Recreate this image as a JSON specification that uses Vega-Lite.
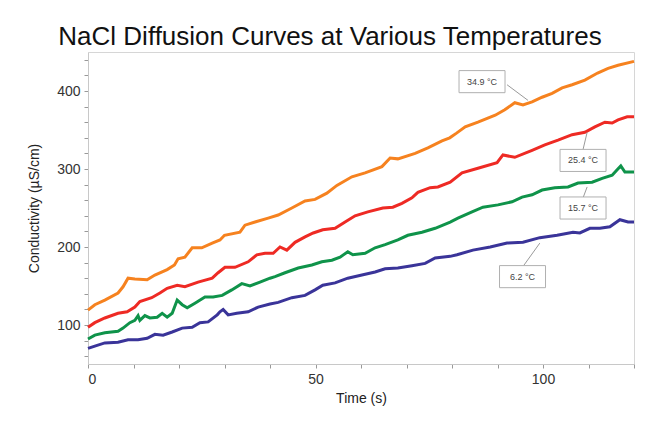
{
  "$schema": "https://vega.github.io/schema/vega-lite/v6.json",
  "width": 546,
  "height": 312,
  "autosize": {"type": "none"},
  "padding": {"left": 88, "top": 52, "right": 25, "bottom": 61},
  "background": "white",
  "title": {
    "text": "NaCl Diffusion Curves at Various Temperatures",
    "font": "Liberation Sans",
    "fontSize": 26,
    "fontWeight": "normal",
    "color": "#111111",
    "anchor": "middle",
    "dx": -31,
    "offset": 2
  },
  "config": {
    "view": {"stroke": "#d6d6d6", "strokeWidth": 1},
    "axis": {
      "grid": false,
      "domainColor": "#c8c8c8",
      "tickColor": "#999999",
      "tickSize": 4,
      "tickWidth": 1,
      "labelOverlap": false,
      "labelFont": "Liberation Sans",
      "labelFontSize": 14,
      "labelColor": "#333333",
      "titleFont": "Liberation Sans",
      "titleFontSize": 14,
      "titleFontWeight": "normal",
      "titleColor": "#222222"
    }
  },
  "datasets": {
    "curves": [
      {"series": "34.9 °C", "t": 0, "v": 119}, {"series": "34.9 °C", "t": 1.5, "v": 126}, {"series": "34.9 °C", "t": 3.7, "v": 132}, {"series": "34.9 °C", "t": 6.6, "v": 141}, {"series": "34.9 °C", "t": 7.7, "v": 149}, {"series": "34.9 °C", "t": 8.8, "v": 160}, {"series": "34.9 °C", "t": 10.3, "v": 159}, {"series": "34.9 °C", "t": 13, "v": 158}, {"series": "34.9 °C", "t": 14.7, "v": 164}, {"series": "34.9 °C", "t": 17.4, "v": 171}, {"series": "34.9 °C", "t": 19, "v": 177}, {"series": "34.9 °C", "t": 19.8, "v": 185}, {"series": "34.9 °C", "t": 21.3, "v": 187}, {"series": "34.9 °C", "t": 22.9, "v": 199}, {"series": "34.9 °C", "t": 25, "v": 199}, {"series": "34.9 °C", "t": 27.3, "v": 205}, {"series": "34.9 °C", "t": 29, "v": 209}, {"series": "34.9 °C", "t": 30, "v": 215}, {"series": "34.9 °C", "t": 33.4, "v": 219}, {"series": "34.9 °C", "t": 34.5, "v": 228}, {"series": "34.9 °C", "t": 36.7, "v": 232}, {"series": "34.9 °C", "t": 39.6, "v": 237}, {"series": "34.9 °C", "t": 41.8, "v": 241}, {"series": "34.9 °C", "t": 44.8, "v": 250}, {"series": "34.9 °C", "t": 47.7, "v": 259}, {"series": "34.9 °C", "t": 49.9, "v": 261}, {"series": "34.9 °C", "t": 52.5, "v": 269}, {"series": "34.9 °C", "t": 54.7, "v": 279}, {"series": "34.9 °C", "t": 58, "v": 290}, {"series": "34.9 °C", "t": 60.9, "v": 295}, {"series": "34.9 °C", "t": 64.6, "v": 303}, {"series": "34.9 °C", "t": 66.4, "v": 314}, {"series": "34.9 °C", "t": 68.1, "v": 313}, {"series": "34.9 °C", "t": 71.9, "v": 320}, {"series": "34.9 °C", "t": 74.7, "v": 327}, {"series": "34.9 °C", "t": 77.8, "v": 336}, {"series": "34.9 °C", "t": 79.5, "v": 340}, {"series": "34.9 °C", "t": 81, "v": 346}, {"series": "34.9 °C", "t": 82.9, "v": 354}, {"series": "34.9 °C", "t": 85.7, "v": 360}, {"series": "34.9 °C", "t": 89.5, "v": 369}, {"series": "34.9 °C", "t": 91.6, "v": 376}, {"series": "34.9 °C", "t": 93.8, "v": 385}, {"series": "34.9 °C", "t": 95.6, "v": 382}, {"series": "34.9 °C", "t": 97.6, "v": 386}, {"series": "34.9 °C", "t": 99.8, "v": 392}, {"series": "34.9 °C", "t": 102, "v": 397}, {"series": "34.9 °C", "t": 104.2, "v": 404}, {"series": "34.9 °C", "t": 106.4, "v": 408}, {"series": "34.9 °C", "t": 109.2, "v": 414}, {"series": "34.9 °C", "t": 112, "v": 423}, {"series": "34.9 °C", "t": 114.3, "v": 429}, {"series": "34.9 °C", "t": 116.5, "v": 433}, {"series": "34.9 °C", "t": 120, "v": 438},
      {"series": "25.4 °C", "t": 0, "v": 97}, {"series": "25.4 °C", "t": 1.5, "v": 103}, {"series": "25.4 °C", "t": 3.7, "v": 109}, {"series": "25.4 °C", "t": 6.6, "v": 115}, {"series": "25.4 °C", "t": 8.6, "v": 117}, {"series": "25.4 °C", "t": 10.3, "v": 123}, {"series": "25.4 °C", "t": 11.4, "v": 130}, {"series": "25.4 °C", "t": 14, "v": 135}, {"series": "25.4 °C", "t": 15.8, "v": 141}, {"series": "25.4 °C", "t": 17.4, "v": 147}, {"series": "25.4 °C", "t": 19.6, "v": 151}, {"series": "25.4 °C", "t": 21.3, "v": 149}, {"series": "25.4 °C", "t": 24.2, "v": 155}, {"series": "25.4 °C", "t": 27.3, "v": 160}, {"series": "25.4 °C", "t": 28.6, "v": 167}, {"series": "25.4 °C", "t": 30.1, "v": 174}, {"series": "25.4 °C", "t": 32.3, "v": 174}, {"series": "25.4 °C", "t": 35.2, "v": 181}, {"series": "25.4 °C", "t": 37.1, "v": 190}, {"series": "25.4 °C", "t": 38.9, "v": 192}, {"series": "25.4 °C", "t": 40.7, "v": 192}, {"series": "25.4 °C", "t": 42.2, "v": 200}, {"series": "25.4 °C", "t": 43.7, "v": 196}, {"series": "25.4 °C", "t": 45.5, "v": 206}, {"series": "25.4 °C", "t": 47.7, "v": 213}, {"series": "25.4 °C", "t": 49.5, "v": 218}, {"series": "25.4 °C", "t": 51.6, "v": 222}, {"series": "25.4 °C", "t": 54.3, "v": 224}, {"series": "25.4 °C", "t": 56.5, "v": 232}, {"series": "25.4 °C", "t": 58.7, "v": 240}, {"series": "25.4 °C", "t": 61.5, "v": 245}, {"series": "25.4 °C", "t": 64.8, "v": 250}, {"series": "25.4 °C", "t": 67, "v": 251}, {"series": "25.4 °C", "t": 69, "v": 256}, {"series": "25.4 °C", "t": 71.2, "v": 263}, {"series": "25.4 °C", "t": 72.5, "v": 270}, {"series": "25.4 °C", "t": 75.2, "v": 276}, {"series": "25.4 °C", "t": 76.9, "v": 277}, {"series": "25.4 °C", "t": 79.6, "v": 283}, {"series": "25.4 °C", "t": 82.2, "v": 295}, {"series": "25.4 °C", "t": 85.7, "v": 301}, {"series": "25.4 °C", "t": 89.9, "v": 308}, {"series": "25.4 °C", "t": 91.2, "v": 318}, {"series": "25.4 °C", "t": 93.8, "v": 315}, {"series": "25.4 °C", "t": 97.6, "v": 324}, {"series": "25.4 °C", "t": 100.4, "v": 331}, {"series": "25.4 °C", "t": 103.3, "v": 337}, {"series": "25.4 °C", "t": 106.4, "v": 344}, {"series": "25.4 °C", "t": 109.2, "v": 347}, {"series": "25.4 °C", "t": 111.4, "v": 354}, {"series": "25.4 °C", "t": 113.6, "v": 360}, {"series": "25.4 °C", "t": 115.2, "v": 359}, {"series": "25.4 °C", "t": 116.5, "v": 363}, {"series": "25.4 °C", "t": 118.5, "v": 367}, {"series": "25.4 °C", "t": 120, "v": 367},
      {"series": "15.7 °C", "t": 0, "v": 82}, {"series": "15.7 °C", "t": 1.5, "v": 87}, {"series": "15.7 °C", "t": 3.7, "v": 90}, {"series": "15.7 °C", "t": 6.6, "v": 92}, {"series": "15.7 °C", "t": 7.7, "v": 96}, {"series": "15.7 °C", "t": 9.2, "v": 103}, {"series": "15.7 °C", "t": 10.3, "v": 106}, {"series": "15.7 °C", "t": 11, "v": 112}, {"series": "15.7 °C", "t": 11.4, "v": 106}, {"series": "15.7 °C", "t": 12.5, "v": 112}, {"series": "15.7 °C", "t": 13.6, "v": 109}, {"series": "15.7 °C", "t": 15.2, "v": 110}, {"series": "15.7 °C", "t": 16.3, "v": 115}, {"series": "15.7 °C", "t": 17.4, "v": 110}, {"series": "15.7 °C", "t": 18.5, "v": 115}, {"series": "15.7 °C", "t": 19.6, "v": 132}, {"series": "15.7 °C", "t": 20.7, "v": 126}, {"series": "15.7 °C", "t": 21.8, "v": 122}, {"series": "15.7 °C", "t": 23.5, "v": 128}, {"series": "15.7 °C", "t": 25.7, "v": 136}, {"series": "15.7 °C", "t": 27.5, "v": 136}, {"series": "15.7 °C", "t": 29.5, "v": 138}, {"series": "15.7 °C", "t": 31.6, "v": 145}, {"series": "15.7 °C", "t": 33.8, "v": 153}, {"series": "15.7 °C", "t": 35.6, "v": 150}, {"series": "15.7 °C", "t": 37.8, "v": 155}, {"series": "15.7 °C", "t": 40, "v": 160}, {"series": "15.7 °C", "t": 41.1, "v": 162}, {"series": "15.7 °C", "t": 43.3, "v": 167}, {"series": "15.7 °C", "t": 46.2, "v": 173}, {"series": "15.7 °C", "t": 49.2, "v": 177}, {"series": "15.7 °C", "t": 51.4, "v": 181}, {"series": "15.7 °C", "t": 53.6, "v": 183}, {"series": "15.7 °C", "t": 55.4, "v": 187}, {"series": "15.7 °C", "t": 57.1, "v": 194}, {"series": "15.7 °C", "t": 58.2, "v": 190}, {"series": "15.7 °C", "t": 60.9, "v": 192}, {"series": "15.7 °C", "t": 63.1, "v": 199}, {"series": "15.7 °C", "t": 65.3, "v": 203}, {"series": "15.7 °C", "t": 68.1, "v": 209}, {"series": "15.7 °C", "t": 70.3, "v": 215}, {"series": "15.7 °C", "t": 73.4, "v": 219}, {"series": "15.7 °C", "t": 76.3, "v": 224}, {"series": "15.7 °C", "t": 79.6, "v": 232}, {"series": "15.7 °C", "t": 81.3, "v": 237}, {"series": "15.7 °C", "t": 84.4, "v": 245}, {"series": "15.7 °C", "t": 86.8, "v": 251}, {"series": "15.7 °C", "t": 90.1, "v": 254}, {"series": "15.7 °C", "t": 93.2, "v": 258}, {"series": "15.7 °C", "t": 95.4, "v": 264}, {"series": "15.7 °C", "t": 97.6, "v": 267}, {"series": "15.7 °C", "t": 99.8, "v": 273}, {"series": "15.7 °C", "t": 102.6, "v": 276}, {"series": "15.7 °C", "t": 105.5, "v": 277}, {"series": "15.7 °C", "t": 107.7, "v": 282}, {"series": "15.7 °C", "t": 110.8, "v": 283}, {"series": "15.7 °C", "t": 113, "v": 288}, {"series": "15.7 °C", "t": 115.2, "v": 292}, {"series": "15.7 °C", "t": 116.3, "v": 299}, {"series": "15.7 °C", "t": 117.1, "v": 304}, {"series": "15.7 °C", "t": 118, "v": 296}, {"series": "15.7 °C", "t": 120, "v": 296},
      {"series": "6.2 °C", "t": 0, "v": 70}, {"series": "6.2 °C", "t": 1.5, "v": 73}, {"series": "6.2 °C", "t": 3.7, "v": 77}, {"series": "6.2 °C", "t": 6.6, "v": 78}, {"series": "6.2 °C", "t": 8.8, "v": 81}, {"series": "6.2 °C", "t": 11, "v": 81}, {"series": "6.2 °C", "t": 13, "v": 83}, {"series": "6.2 °C", "t": 14.7, "v": 88}, {"series": "6.2 °C", "t": 16.5, "v": 87}, {"series": "6.2 °C", "t": 18.5, "v": 91}, {"series": "6.2 °C", "t": 20.7, "v": 96}, {"series": "6.2 °C", "t": 22.9, "v": 97}, {"series": "6.2 °C", "t": 24.6, "v": 103}, {"series": "6.2 °C", "t": 26.4, "v": 104}, {"series": "6.2 °C", "t": 28.4, "v": 113}, {"series": "6.2 °C", "t": 29, "v": 117}, {"series": "6.2 °C", "t": 29.7, "v": 120}, {"series": "6.2 °C", "t": 30.8, "v": 113}, {"series": "6.2 °C", "t": 32.7, "v": 115}, {"series": "6.2 °C", "t": 35.2, "v": 117}, {"series": "6.2 °C", "t": 37.4, "v": 123}, {"series": "6.2 °C", "t": 40, "v": 127}, {"series": "6.2 °C", "t": 41.8, "v": 129}, {"series": "6.2 °C", "t": 44.8, "v": 135}, {"series": "6.2 °C", "t": 47.7, "v": 138}, {"series": "6.2 °C", "t": 49.9, "v": 145}, {"series": "6.2 °C", "t": 51.6, "v": 151}, {"series": "6.2 °C", "t": 54.3, "v": 154}, {"series": "6.2 °C", "t": 57.1, "v": 160}, {"series": "6.2 °C", "t": 60.2, "v": 164}, {"series": "6.2 °C", "t": 63.1, "v": 168}, {"series": "6.2 °C", "t": 65.3, "v": 172}, {"series": "6.2 °C", "t": 68.1, "v": 173}, {"series": "6.2 °C", "t": 71.2, "v": 176}, {"series": "6.2 °C", "t": 74.1, "v": 179}, {"series": "6.2 °C", "t": 76.3, "v": 186}, {"series": "6.2 °C", "t": 79.6, "v": 188}, {"series": "6.2 °C", "t": 81.1, "v": 190}, {"series": "6.2 °C", "t": 84.6, "v": 196}, {"series": "6.2 °C", "t": 88.4, "v": 200}, {"series": "6.2 °C", "t": 92.1, "v": 205}, {"series": "6.2 °C", "t": 95.6, "v": 206}, {"series": "6.2 °C", "t": 99.3, "v": 212}, {"series": "6.2 °C", "t": 103.1, "v": 215}, {"series": "6.2 °C", "t": 106.6, "v": 219}, {"series": "6.2 °C", "t": 108.1, "v": 218}, {"series": "6.2 °C", "t": 110.3, "v": 224}, {"series": "6.2 °C", "t": 112.5, "v": 224}, {"series": "6.2 °C", "t": 114.7, "v": 226}, {"series": "6.2 °C", "t": 116.9, "v": 235}, {"series": "6.2 °C", "t": 118.7, "v": 232}, {"series": "6.2 °C", "t": 120, "v": 232}
    ],
    "labels": [
      {"series": "34.9 °C", "t": 86.6, "v": 412},
      {"series": "25.4 °C", "t": 108.8, "v": 311},
      {"series": "15.7 °C", "t": 108.8, "v": 250},
      {"series": "6.2 °C", "t": 95.5, "v": 162}
    ],
    "leaders": [
      {"series": "34.9 °C", "t": 92.1, "v": 408, "t2": 96.7, "v2": 388},
      {"series": "25.4 °C", "t": 108.8, "v": 325, "t2": 109.7, "v2": 347},
      {"series": "15.7 °C", "t": 108.8, "v": 263, "t2": 109.7, "v2": 277},
      {"series": "6.2 °C", "t": 95.6, "v": 175, "t2": 99.3, "v2": 205}
    ]
  },
  "encoding": {
    "x": {
      "field": "t", "type": "quantitative",
      "scale": {"domain": [0, 120], "nice": false, "zero": false},
      "axis": {
        "title": "Time (s)",
        "values": [0, 10, 20, 30, 40, 50, 60, 70, 80, 90, 100, 110, 120],
        "labelExpr": "datum.value % 50 == 0 ? datum.label : ''",
        "labelOverlap": false,
        "labelPadding": 4,
        "titlePadding": 5
      }
    },
    "y": {
      "field": "v", "type": "quantitative",
      "scale": {"domain": [50, 450], "nice": false, "zero": false},
      "axis": {
        "title": "Conductivity (µS/cm)",
        "values": [60, 80, 100, 120, 140, 160, 180, 200, 220, 240, 260, 280, 300, 320, 340, 360, 380, 400, 420, 440],
        "labelExpr": "datum.value % 100 == 0 ? datum.label : ''",
        "labelOverlap": false,
        "labelPadding": 4,
        "titleX": -54,
        "titleY": 156,
        "titleAngle": -90,
        "titleAlign": "center",
        "titleBaseline": "middle"
      }
    }
  },
  "layer": [
    {
      "data": {"name": "curves"},
      "mark": {"type": "line", "strokeWidth": 3, "interpolate": "linear"},
      "encoding": {
        "color": {
          "field": "series", "type": "nominal",
          "scale": {"domain": ["34.9 °C", "25.4 °C", "15.7 °C", "6.2 °C"], "range": ["#F6821F", "#EE2A24", "#0F934A", "#3A3499"]},
          "legend": null
        }
      }
    },
    {
      "data": {"name": "leaders"},
      "mark": {"type": "rule", "color": "#9a9a9a", "strokeWidth": 1},
      "encoding": {
        "x2": {"field": "t2"},
        "y2": {"field": "v2"}
      }
    },
    {
      "data": {"name": "labels"},
      "mark": {"type": "point", "shape": "M-1,-0.48H1V0.48H-1Z", "size": 2116, "filled": true, "fill": "white", "stroke": "#b0b0b0", "strokeWidth": 1, "opacity": 1},
      "encoding": {}
    },
    {
      "data": {"name": "labels"},
      "mark": {"type": "text", "font": "Liberation Sans", "fontSize": 9, "color": "#444444", "align": "center", "baseline": "middle"},
      "encoding": {
        "text": {"field": "series"}
      }
    }
  ]
}
